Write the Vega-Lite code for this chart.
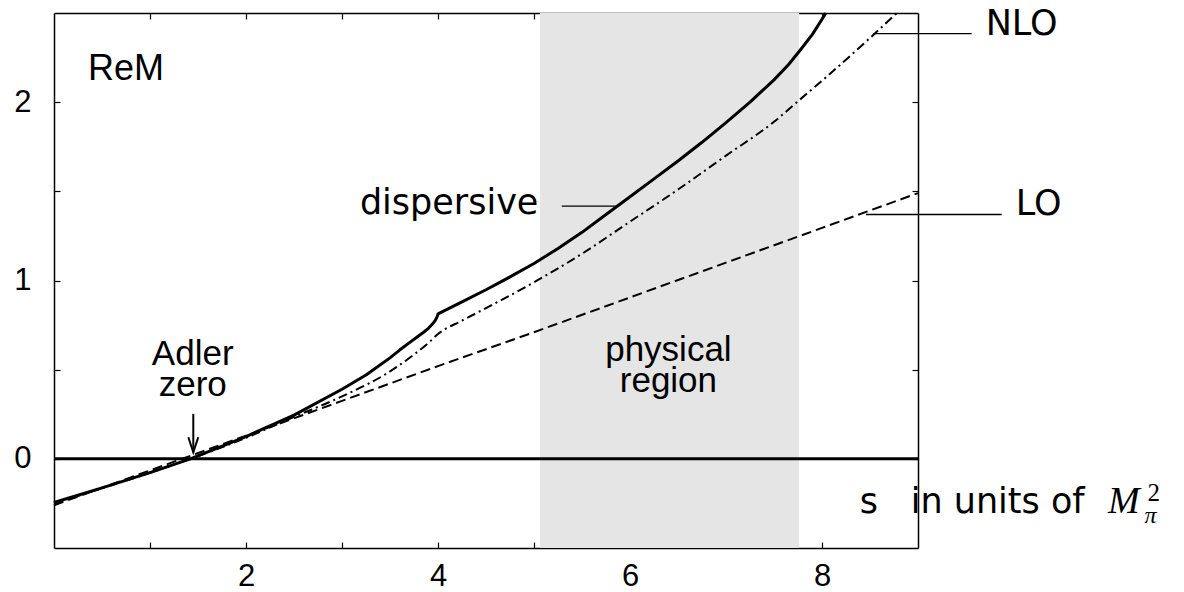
{
  "$schema": "https://vega.github.io/schema/vega-lite/v6.json",
  "width": 864,
  "height": 535,
  "autosize": {"type": "none"},
  "padding": {"left": 54, "top": 13, "right": 266, "bottom": 44},
  "background": "white",
  "config": {
    "view": {"stroke": null},
    "axis": {
      "domain": true,
      "domainColor": "black",
      "domainWidth": 1.5,
      "ticks": true,
      "tickColor": "black",
      "tickWidth": 1.2,
      "tickSize": -6,
      "grid": false,
      "labelFont": "Liberation Sans",
      "labelFontSize": 31,
      "labelColor": "black",
      "zindex": 1
    }
  },
  "datasets": {
    "curves": [
      {"s": 0.0, "M": -0.245, "curve": "dispersive"},
      {"s": 0.5, "M": -0.163, "curve": "dispersive"},
      {"s": 1.0, "M": -0.077, "curve": "dispersive"},
      {"s": 1.42, "M": 0.0, "curve": "dispersive"},
      {"s": 2.0, "M": 0.125, "curve": "dispersive"},
      {"s": 2.5, "M": 0.245, "curve": "dispersive"},
      {"s": 3.0, "M": 0.39, "curve": "dispersive"},
      {"s": 3.25, "M": 0.47, "curve": "dispersive"},
      {"s": 3.5, "M": 0.566, "curve": "dispersive"},
      {"s": 3.6, "M": 0.61, "curve": "dispersive"},
      {"s": 3.7, "M": 0.65, "curve": "dispersive"},
      {"s": 3.8, "M": 0.69, "curve": "dispersive"},
      {"s": 3.85, "M": 0.71, "curve": "dispersive"},
      {"s": 3.9, "M": 0.732, "curve": "dispersive"},
      {"s": 3.94, "M": 0.755, "curve": "dispersive"},
      {"s": 3.97, "M": 0.775, "curve": "dispersive"},
      {"s": 3.985, "M": 0.79, "curve": "dispersive"},
      {"s": 3.995, "M": 0.803, "curve": "dispersive"},
      {"s": 4.0, "M": 0.813, "curve": "dispersive"},
      {"s": 4.25, "M": 0.88, "curve": "dispersive"},
      {"s": 4.5, "M": 0.948, "curve": "dispersive"},
      {"s": 4.75, "M": 1.02, "curve": "dispersive"},
      {"s": 5.0, "M": 1.095, "curve": "dispersive"},
      {"s": 5.25, "M": 1.18, "curve": "dispersive"},
      {"s": 5.5, "M": 1.27, "curve": "dispersive"},
      {"s": 5.75, "M": 1.37, "curve": "dispersive"},
      {"s": 6.0, "M": 1.47, "curve": "dispersive"},
      {"s": 6.25, "M": 1.57, "curve": "dispersive"},
      {"s": 6.5, "M": 1.67, "curve": "dispersive"},
      {"s": 6.75, "M": 1.775, "curve": "dispersive"},
      {"s": 7.0, "M": 1.885, "curve": "dispersive"},
      {"s": 7.25, "M": 2.0, "curve": "dispersive"},
      {"s": 7.5, "M": 2.125, "curve": "dispersive"},
      {"s": 7.65, "M": 2.21, "curve": "dispersive"},
      {"s": 7.77, "M": 2.29, "curve": "dispersive"},
      {"s": 7.9, "M": 2.38, "curve": "dispersive"},
      {"s": 8.0, "M": 2.465, "curve": "dispersive"},
      {"s": 8.04, "M": 2.5, "curve": "dispersive"},
      {"s": 0.0, "M": -0.25, "curve": "NLO"},
      {"s": 0.5, "M": -0.165, "curve": "NLO"},
      {"s": 1.0, "M": -0.078, "curve": "NLO"},
      {"s": 1.42, "M": 0.0, "curve": "NLO"},
      {"s": 2.0, "M": 0.118, "curve": "NLO"},
      {"s": 2.5, "M": 0.235, "curve": "NLO"},
      {"s": 3.0, "M": 0.35, "curve": "NLO"},
      {"s": 3.5, "M": 0.49, "curve": "NLO"},
      {"s": 3.75, "M": 0.585, "curve": "NLO"},
      {"s": 3.9, "M": 0.65, "curve": "NLO"},
      {"s": 4.0, "M": 0.7, "curve": "NLO"},
      {"s": 4.25, "M": 0.775, "curve": "NLO"},
      {"s": 4.5, "M": 0.845, "curve": "NLO"},
      {"s": 5.0, "M": 0.99, "curve": "NLO"},
      {"s": 5.5, "M": 1.15, "curve": "NLO"},
      {"s": 6.0, "M": 1.33, "curve": "NLO"},
      {"s": 6.5, "M": 1.51, "curve": "NLO"},
      {"s": 7.0, "M": 1.7, "curve": "NLO"},
      {"s": 7.5, "M": 1.89, "curve": "NLO"},
      {"s": 7.76, "M": 2.01, "curve": "NLO"},
      {"s": 8.0, "M": 2.12, "curve": "NLO"},
      {"s": 8.5, "M": 2.36, "curve": "NLO"},
      {"s": 8.78, "M": 2.5, "curve": "NLO"},
      {"s": 0.0, "M": -0.26, "curve": "LO"},
      {"s": 1.0, "M": -0.065, "curve": "LO"},
      {"s": 2.0, "M": 0.13, "curve": "LO"},
      {"s": 3.0, "M": 0.325, "curve": "LO"},
      {"s": 4.0, "M": 0.52, "curve": "LO"},
      {"s": 5.0, "M": 0.71, "curve": "LO"},
      {"s": 6.0, "M": 0.905, "curve": "LO"},
      {"s": 7.0, "M": 1.1, "curve": "LO"},
      {"s": 8.0, "M": 1.295, "curve": "LO"},
      {"s": 9.0, "M": 1.49, "curve": "LO"}
    ],
    "zero": [{"M": 0}],
    "region": [{"from": 5.0625, "to": 7.76}],
    "pointers": [
      {"name": "dispersive", "s": 5.289, "s2": 5.862, "M": 1.417},
      {"name": "NLO", "s": 8.534, "s2": 9.559, "M": 2.384},
      {"name": "LO", "s": 8.458, "s2": 9.872, "M": 1.37}
    ],
    "adler": [{"s": 1.451, "top": 0.252, "tip": 0.037}],
    "notes": [
      {"text": "ReM", "s": 0.354, "M": 2.122, "style": "sans-left"},
      {"text": "Adler", "s": 1.445, "M": 0.528, "style": "sans-center"},
      {"text": "zero", "s": 1.445, "M": 0.355, "style": "sans-center"},
      {"text": "physical", "s": 6.4, "M": 0.547, "style": "sans-center"},
      {"text": "region", "s": 6.4, "M": 0.372, "style": "sans-center"},
      {"text": "dispersive", "s": 5.046, "M": 1.374, "style": "label-right"},
      {"text": "NLO", "s": 9.705, "M": 2.374, "style": "label-left"},
      {"text": "LO", "s": 10.017, "M": 1.365, "style": "label-left"},
      {"text": "s", "s": 8.394, "M": -0.301, "style": "label-left"},
      {"text": "in units of", "s": 9.83, "M": -0.301, "style": "label-center"},
      {"text": "M", "s": 10.98, "M": -0.301, "style": "math"},
      {"text": "π", "s": 11.36, "M": -0.361, "style": "math-sub"},
      {"text": "2", "s": 11.39, "M": -0.234, "style": "math-sup"}
    ]
  },
  "layer": [
    {
      "data": {"name": "region"},
      "mark": {"type": "rect", "color": "#e5e5e5"},
      "encoding": {
        "x": {
          "field": "from", "type": "quantitative",
          "scale": {"domain": [0, 9], "nice": false, "zero": false},
          "axis": {
            "orient": "bottom", "title": null,
            "values": [1, 2, 3, 4, 5, 6, 7, 8],
            "labelExpr": "datum.value % 2 == 0 ? datum.label : ''",
            "labelPadding": 19
          }
        },
        "x2": {"field": "to"}
      }
    },
    {
      "data": {"name": "zero"},
      "mark": {"type": "rule", "color": "black", "strokeWidth": 3},
      "encoding": {
        "y": {
          "field": "M", "type": "quantitative",
          "scale": {"domain": [-0.5, 2.5], "nice": false, "zero": false},
          "axis": {
            "orient": "left", "title": null,
            "values": [0, 0.5, 1, 1.5, 2],
            "labelExpr": "datum.value % 1 == 0 ? format(datum.value, 'd') : ''",
            "labelPadding": 29
          }
        }
      }
    },
    {
      "data": {"name": "curves"},
      "transform": [{"filter": "datum.curve == 'dispersive'"}],
      "mark": {"type": "line", "color": "black", "strokeWidth": 3, "strokeJoin": "round"},
      "encoding": {
        "x": {
          "field": "s", "type": "quantitative",
          "scale": {"domain": [0, 9], "nice": false, "zero": false},
          "axis": {"orient": "top", "title": null, "labels": false, "values": [1, 2, 3, 4, 5, 6, 7, 8]}
        },
        "y": {
          "field": "M", "type": "quantitative",
          "scale": {"domain": [-0.5, 2.5], "nice": false, "zero": false},
          "axis": {"orient": "right", "title": null, "labels": false, "values": [0, 0.5, 1, 1.5, 2]}
        }
      }
    },
    {
      "data": {"name": "curves"},
      "transform": [{"filter": "datum.curve == 'NLO'"}],
      "mark": {"type": "line", "color": "black", "strokeWidth": 2, "strokeDash": [9, 4, 2, 4], "interpolate": "monotone"},
      "encoding": {
        "x": {"field": "s", "type": "quantitative", "scale": {"domain": [0, 9], "nice": false, "zero": false}, "axis": null},
        "y": {"field": "M", "type": "quantitative", "scale": {"domain": [-0.5, 2.5], "nice": false, "zero": false}, "axis": null}
      }
    },
    {
      "data": {"name": "curves"},
      "transform": [{"filter": "datum.curve == 'LO'"}],
      "mark": {"type": "line", "color": "black", "strokeWidth": 2, "strokeDash": [10, 5]},
      "encoding": {
        "x": {"field": "s", "type": "quantitative", "scale": {"domain": [0, 9], "nice": false, "zero": false}, "axis": null},
        "y": {"field": "M", "type": "quantitative", "scale": {"domain": [-0.5, 2.5], "nice": false, "zero": false}, "axis": null}
      }
    },
    {
      "data": {"name": "pointers"},
      "mark": {"type": "rule", "color": "black", "strokeWidth": 1.3},
      "encoding": {
        "x": {"field": "s", "type": "quantitative", "scale": {"domain": [0, 9], "nice": false, "zero": false}, "axis": null},
        "x2": {"field": "s2"},
        "y": {"field": "M", "type": "quantitative", "scale": {"domain": [-0.5, 2.5], "nice": false, "zero": false}, "axis": null}
      }
    },
    {
      "data": {"name": "adler"},
      "mark": {"type": "rule", "color": "black", "strokeWidth": 2},
      "encoding": {
        "x": {"field": "s", "type": "quantitative", "scale": {"domain": [0, 9], "nice": false, "zero": false}, "axis": null},
        "y": {"field": "top", "type": "quantitative", "scale": {"domain": [-0.5, 2.5], "nice": false, "zero": false}, "axis": null},
        "y2": {"field": "tip"}
      }
    },
    {
      "data": {"name": "adler"},
      "mark": {
        "type": "point", "shape": "M -0.33 -1 L 0 0 L 0.33 -1", "size": 900,
        "filled": false, "color": "black", "strokeWidth": 2, "opacity": 1, "strokeJoin": "miter"
      },
      "encoding": {
        "x": {"field": "s", "type": "quantitative", "scale": {"domain": [0, 9], "nice": false, "zero": false}, "axis": null},
        "y": {"field": "tip", "type": "quantitative", "scale": {"domain": [-0.5, 2.5], "nice": false, "zero": false}, "axis": null}
      }
    },
    {
      "data": {"name": "notes"},
      "transform": [{"filter": "datum.style == 'sans-left'"}],
      "mark": {"type": "text", "font": "Liberation Sans", "fontSize": 36, "align": "left", "baseline": "alphabetic", "color": "black"},
      "encoding": {
        "x": {"field": "s", "type": "quantitative", "scale": {"domain": [0, 9], "nice": false, "zero": false}, "axis": null},
        "y": {"field": "M", "type": "quantitative", "scale": {"domain": [-0.5, 2.5], "nice": false, "zero": false}, "axis": null},
        "text": {"field": "text"}
      }
    },
    {
      "data": {"name": "notes"},
      "transform": [{"filter": "datum.style == 'sans-center'"}],
      "mark": {"type": "text", "font": "Liberation Sans", "fontSize": 35, "align": "center", "baseline": "alphabetic", "color": "black"},
      "encoding": {
        "x": {"field": "s", "type": "quantitative", "scale": {"domain": [0, 9], "nice": false, "zero": false}, "axis": null},
        "y": {"field": "M", "type": "quantitative", "scale": {"domain": [-0.5, 2.5], "nice": false, "zero": false}, "axis": null},
        "text": {"field": "text"}
      }
    },
    {
      "data": {"name": "notes"},
      "transform": [{"filter": "datum.style == 'label-right'"}],
      "mark": {"type": "text", "font": "DejaVu Sans", "fontSize": 35, "align": "right", "baseline": "alphabetic", "color": "black"},
      "encoding": {
        "x": {"field": "s", "type": "quantitative", "scale": {"domain": [0, 9], "nice": false, "zero": false}, "axis": null},
        "y": {"field": "M", "type": "quantitative", "scale": {"domain": [-0.5, 2.5], "nice": false, "zero": false}, "axis": null},
        "text": {"field": "text"}
      }
    },
    {
      "data": {"name": "notes"},
      "transform": [{"filter": "datum.style == 'label-left'"}],
      "mark": {"type": "text", "font": "DejaVu Sans", "fontSize": 35, "align": "left", "baseline": "alphabetic", "color": "black"},
      "encoding": {
        "x": {"field": "s", "type": "quantitative", "scale": {"domain": [0, 9], "nice": false, "zero": false}, "axis": null},
        "y": {"field": "M", "type": "quantitative", "scale": {"domain": [-0.5, 2.5], "nice": false, "zero": false}, "axis": null},
        "text": {"field": "text"}
      }
    },
    {
      "data": {"name": "notes"},
      "transform": [{"filter": "datum.style == 'label-center'"}],
      "mark": {"type": "text", "font": "DejaVu Sans", "fontSize": 35, "align": "center", "baseline": "alphabetic", "color": "black"},
      "encoding": {
        "x": {"field": "s", "type": "quantitative", "scale": {"domain": [0, 9], "nice": false, "zero": false}, "axis": null},
        "y": {"field": "M", "type": "quantitative", "scale": {"domain": [-0.5, 2.5], "nice": false, "zero": false}, "axis": null},
        "text": {"field": "text"}
      }
    },
    {
      "data": {"name": "notes"},
      "transform": [{"filter": "datum.style == 'math'"}],
      "mark": {"type": "text", "font": "Liberation Serif", "fontStyle": "italic", "fontSize": 38, "align": "left", "baseline": "alphabetic", "color": "black"},
      "encoding": {
        "x": {"field": "s", "type": "quantitative", "scale": {"domain": [0, 9], "nice": false, "zero": false}, "axis": null},
        "y": {"field": "M", "type": "quantitative", "scale": {"domain": [-0.5, 2.5], "nice": false, "zero": false}, "axis": null},
        "text": {"field": "text"}
      }
    },
    {
      "data": {"name": "notes"},
      "transform": [{"filter": "datum.style == 'math-sub'"}],
      "mark": {"type": "text", "font": "Liberation Serif", "fontStyle": "italic", "fontSize": 24, "align": "left", "baseline": "alphabetic", "color": "black"},
      "encoding": {
        "x": {"field": "s", "type": "quantitative", "scale": {"domain": [0, 9], "nice": false, "zero": false}, "axis": null},
        "y": {"field": "M", "type": "quantitative", "scale": {"domain": [-0.5, 2.5], "nice": false, "zero": false}, "axis": null},
        "text": {"field": "text"}
      }
    },
    {
      "data": {"name": "notes"},
      "transform": [{"filter": "datum.style == 'math-sup'"}],
      "mark": {"type": "text", "font": "Liberation Serif", "fontSize": 25, "align": "left", "baseline": "alphabetic", "color": "black"},
      "encoding": {
        "x": {"field": "s", "type": "quantitative", "scale": {"domain": [0, 9], "nice": false, "zero": false}, "axis": null},
        "y": {"field": "M", "type": "quantitative", "scale": {"domain": [-0.5, 2.5], "nice": false, "zero": false}, "axis": null},
        "text": {"field": "text"}
      }
    }
  ],
  "resolve": {"axis": {"x": "independent", "y": "independent"}}
}
